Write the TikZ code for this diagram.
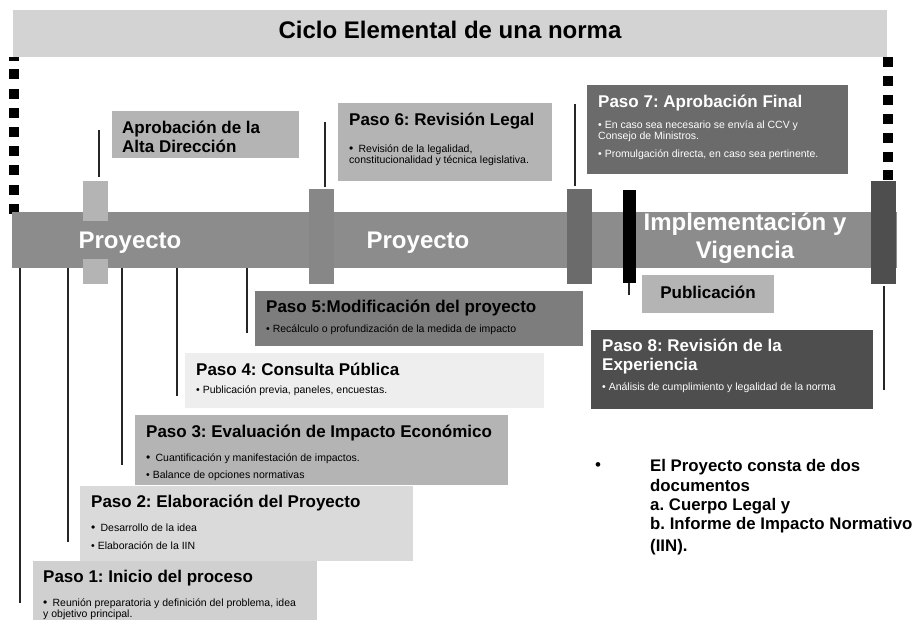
\documentclass[tikz,border=0pt]{standalone}
\usepackage{fontspec}
\setmainfont{Liberation Sans}
\frenchspacing

\definecolor{titlegray}{HTML}{D3D3D3}
\definecolor{bargray}{HTML}{8C8C8C}
\definecolor{lightgray}{HTML}{B4B4B4}
\definecolor{midgray}{HTML}{878787}
\definecolor{darkgray}{HTML}{6B6B6B}
\definecolor{deepgray}{HTML}{4E4E4E}
\definecolor{pasofive}{HTML}{7D7D7D}
\definecolor{pasofour}{HTML}{EEEEEE}
\definecolor{pasotwo}{HTML}{DADADA}
\definecolor{pasoone}{HTML}{D0D0D0}

\begin{document}
\begin{tikzpicture}[x=1pt, y=-1pt,
    box/.style={anchor=north west, inner sep=0pt, outer sep=0pt},
    hd/.style={anchor=base west, inner sep=0pt, font=\fontsize{17}{19}\selectfont\bfseries},
    txt/.style={anchor=base west, inner sep=0pt, font=\fontsize{10.5}{12}\selectfont},
    big/.style={anchor=base, inner sep=0pt, font=\fontsize{24}{26}\selectfont\bfseries},
    stem/.style={line width=1.3pt, black!85}]
  \useasboundingbox (0,0) rectangle (915,619);
  \clip (0,0) rectangle (915,619);
  %%% dotted borders left and right
  \fill[black] (9,57) rectangle (19,60.7);
  \foreach \k in {1,...,8}{ \fill[black] (9,50.1+19.2*\k) rectangle (19,60.1+19.2*\k); }
  \foreach \k in {0,...,6}{ \fill[black] (883,57+18.9*\k) rectangle (893,67+18.9*\k); }
  %%% title and time bar
  \node[box, fill=titlegray, minimum width=874pt, minimum height=47pt] (title) at (13,10) {};
  \node[box, fill=bargray, minimum width=885pt, minimum height=56pt] (bar) at (12,212) {};
  %%% markers on the bar
  \foreach \n/\x/\y/\w/\h/\c in {m1a/83/181/25/40/lightgray, m1b/83/259/25/25/lightgray,
      m2/309/189/25/95/midgray, m3/567/189/25/95/darkgray, m4/623/190/13/93/black,
      m5/871/181/25/103/deepgray}{
    \node[box, fill=\c, minimum width=\w pt, minimum height=\h pt] (\n) at (\x,\y) {};
  }
  %%% step boxes
  \foreach \n/\x/\y/\w/\h/\c in {alta/112/111/187/47/lightgray, p6/338/103/214/78/lightgray,
      p7/587/85/261/89/darkgray, pub/642/275/132/38/lightgray, p8/591/330/282/79/deepgray,
      p5/255/291/328/55/pasofive, p4/185/353/359/55/pasofour, p3/135/415/373/70/lightgray,
      p2/80/486/333/75/pasotwo, p1/33/561/284/70/pasoone}{
    \node[box, fill=\c, minimum width=\w pt, minimum height=\h pt] (\n) at (\x,\y) {};
  }
  %%% stems above the markers
  \coordinate (u1) at (99,130);  \coordinate (v1) at (99,177);
  \coordinate (u2) at (325,122); \coordinate (v2) at (325,187);
  \coordinate (u3) at (575,104); \coordinate (v3) at (575,186);
  \foreach \i in {1,2,3}{ \draw[stem] (u\i) -- (v\i); }
  %%% stems below the markers
  \coordinate (w4) at (629,295);
  \coordinate (w5) at (884,390);
  \draw[stem] (m4.south -| w4) -- (w4);
  \draw[stem, shorten <=2pt] (m5.south -| w5) -- (w5);
  %%% stems below the bar to the steps
  \foreach \n/\x/\y in {a1/20/603, a2/68/542, a3/122/465, a4/177/396, a5/247/333}{
    \coordinate (\n) at (\x,\y);
    \draw[stem] (bar.south -| \n) -- (\n);
  }
  %%% texts on title and bar
  \node[big] (ttltxt) at (450,38) {Ciclo Elemental de una norma};
  \node[big, white] (proy1) at (130,248) {Proyecto};
  \node[big, white] (proy2) at (418,248) {Proyecto};
  \node[big, white] (impl) at (745,230) {Implementación y};
  \node[big, white] (vig) at (745,258) {Vigencia};
  %%% texts in the boxes
  \node[hd] (altatxt) at (122,133) {Aprobación de la};
  \node[hd] (altatxtb) at (122,152) {Alta Dirección};
  \node[hd] (p6t) at (349,125) {Paso 6: Revisión Legal};
  \node[txt] (p6a) at (349,152) {{\large\textbullet}\enspace Revisión de la legalidad,};
  \node[txt] (p6b) at (349,163) {constitucionalidad y técnica legislativa.};
  \node[hd, white] (p7t) at (598,107) {Paso 7: Aprobación Final};
  \node[txt, white] (p7a) at (598,128) {\textbullet{} En caso sea necesario se envía al CCV y};
  \node[txt, white] (p7b) at (598,139) {Consejo de Ministros.};
  \node[txt, white] (p7c) at (598,157) {\textbullet{} Promulgación directa, en caso sea pertinente.};
  \node[hd, anchor=base] (pubt) at (708,298) {Publicación};
  \node[hd, white] (p8t) at (602,351) {Paso 8: Revisión de la};
  \node[hd, white] (p8u) at (602,370) {Experiencia};
  \node[txt, white] (p8a) at (602,390) {\textbullet{} Análisis de cumplimiento y legalidad de la norma};
  \node[hd] (p5t) at (266,312) {Paso 5:Modificación del proyecto};
  \node[txt] (p5a) at (266,332) {\textbullet{} Recálculo o profundización de la medida de impacto};
  \node[hd] (p4t) at (196,375) {Paso 4: Consulta Pública};
  \node[txt] (p4a) at (196,393) {\textbullet{} Publicación previa, paneles, encuestas.};
  \node[hd] (p3t) at (146,437) {Paso 3: Evaluación de Impacto Económico};
  \node[txt] (p3a) at (146,461) {{\large\textbullet}\enspace Cuantificación y manifestación de impactos.};
  \node[txt] (p3b) at (146,478) {\textbullet{} Balance de opciones normativas};
  \node[hd] (p2t) at (91,507) {Paso 2: Elaboración del Proyecto};
  \node[txt] (p2a) at (91,531) {{\large\textbullet}\enspace Desarrollo de la idea};
  \node[txt] (p2b) at (91,549) {\textbullet{} Elaboración de la IIN};
  \node[hd] (p1t) at (43,582) {Paso 1: Inicio del proceso};
  \node[txt] (p1a) at (43,606) {{\large\textbullet}\enspace Reunión preparatoria y definición del problema, idea};
  \node[txt] (p1b) at (43,617) {y objetivo principal.};
  %%% note on the right
  \node[anchor=base, inner sep=0pt, font=\fontsize{17}{19}\selectfont] (dot) at (598,470) {\textbullet};
  \foreach \n/\y/\t in {n1/471/El Proyecto consta de dos, n2/491/documentos, n3/510/a. Cuerpo Legal y,
      n4/529/b. Informe de Impacto Normativo, n5/551/(IIN).}{
    \node[hd, font=\fontsize{16.8}{19}\selectfont\bfseries] (\n) at (650,\y) {\t};
  }
\end{tikzpicture}
\end{document}
